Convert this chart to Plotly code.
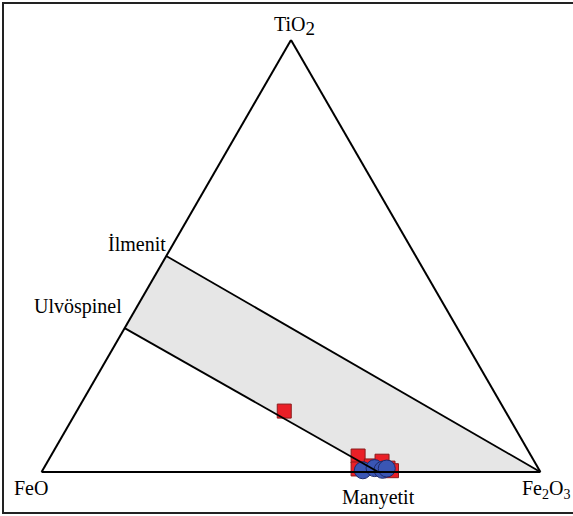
import plotly.graph_objects as go

W, H = 573, 516

# End-member compositions (TiO2, FeO, Fe2O3), summing to 100
ilmenite = (50.0, 50.0, 0.0)
ulvospinel = (33.3, 66.7, 0.0)
magnetite = (0.0, 32.5, 67.5)
hematite = (0.0, 0.0, 100.0)

# Analysed grains, red squares
sq_tio2 = [14.1, 3.7, 0.7, 1.4, 2.5, 0.9, 0.3]
sq_fe2o3 = [41.6, 61.6, 63.1, 65.4, 67.0, 69.0, 70.0]
sq_feo = [100 - t - f for t, f in zip(sq_tio2, sq_fe2o3)]

# Analysed grains, blue circles
ci_tio2 = [0.4, 0.9, 0.5, 0.8]
ci_fe2o3 = [64.2, 66.3, 68.1, 68.8]
ci_feo = [100 - t - f for t, f in zip(ci_tio2, ci_fe2o3)]

fig = go.Figure()

# Shaded field between the two joins
field = [ilmenite, hematite, magnetite, ulvospinel, ilmenite]
fig.add_trace(go.Scatterternary(
    a=[p[0] for p in field], b=[p[1] for p in field], c=[p[2] for p in field],
    mode="lines", fill="toself", fillcolor="#e6e6e6",
    line=dict(width=0, color="rgba(0,0,0,0)"), hoverinfo="skip", showlegend=False))

fig.add_trace(go.Scatterternary(
    a=sq_tio2, b=sq_feo, c=sq_fe2o3, mode="markers", cliponaxis=False,
    marker=dict(symbol="square", size=14, color="#ea1f27",
                line=dict(color="#8a1c1c", width=1)),
    showlegend=False))

fig.add_trace(go.Scatterternary(
    a=ci_tio2, b=ci_feo, c=ci_fe2o3, mode="markers", cliponaxis=False,
    marker=dict(symbol="circle", size=17, color="#3a56b4",
                line=dict(color="#1e2a6a", width=1)),
    showlegend=False))

# Ilmenite–hematite and ulvöspinel–magnetite joins
for p, q in [(ilmenite, hematite), (ulvospinel, magnetite)]:
    fig.add_trace(go.Scatterternary(
        a=[p[0], q[0]], b=[p[1], q[1]], c=[p[2], q[2]], mode="lines",
        line=dict(color="black", width=1.8), hoverinfo="skip", showlegend=False))

axis = dict(showticklabels=False, ticks="", showgrid=False, linecolor="black",
            linewidth=2, title=dict(text=""), min=0, layer="above traces")

SERIF = "Liberation Serif, Times New Roman, serif"

fig.update_layout(
    width=W, height=H, margin=dict(l=0, r=0, t=0, b=0),
    paper_bgcolor="white", plot_bgcolor="white",
    ternary=dict(sum=100, bgcolor="white",
                 domain=dict(x=[41.5 / W, 540.5 / W], y=[1 - 472 / H, 1 - 40 / H]),
                 aaxis=axis, baxis=axis, caxis=axis),
    font=dict(family=SERIF, size=20, color="black"),
)

def px(x, y):
    return x / W, 1 - y / H

labels = [
    ("TiO<sub><span style='font-size:19px'>2</span></sub>", 294, 26),
    ("İlmenit", 137, 244),
    ("Ulvöspinel", 78, 306),
    ("FeO", 31, 488),
    ("Fe<sub>2</sub>O<sub>3</sub>", 546, 489),
    ("Manyetit", 378, 497),
]
for text, x, y in labels:
    xp, yp = px(x, y)
    fig.add_annotation(text=text, x=xp, y=yp, xref="paper", yref="paper",
                       xanchor="center", yanchor="middle", showarrow=False,
                       font=dict(family=SERIF, size=20, color="black"))

# Outer frame
fig.add_shape(type="rect", xref="paper", yref="paper",
              x0=3 / W, x1=1.01, y0=1 - 513 / H, y1=1 - 3 / H,
              line=dict(color="#222222", width=2), fillcolor="rgba(0,0,0,0)")

fig.write_html("out.html")
